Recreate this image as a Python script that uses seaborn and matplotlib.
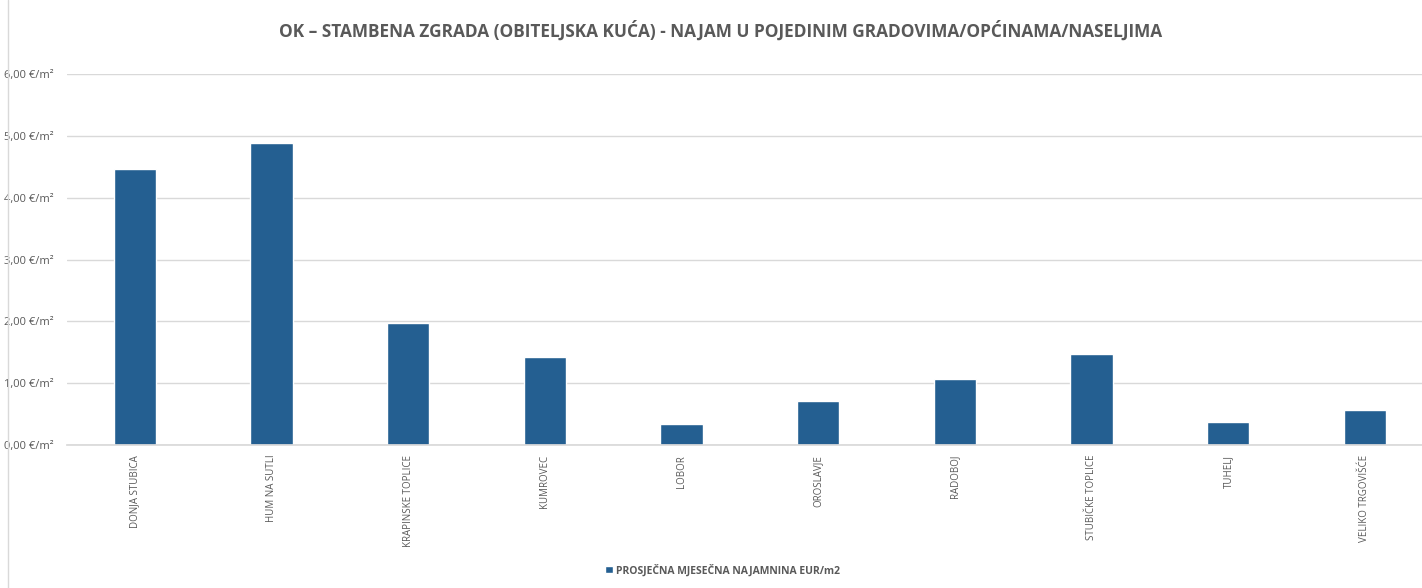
import matplotlib
matplotlib.use("Agg")
import matplotlib.pyplot as plt
import seaborn as sns
import pandas as pd
from matplotlib.ticker import FuncFormatter

places = ["DONJA STUBICA", "HUM NA SUTLI", "KRAPINSKE TOPLICE", "KUMROVEC", "LOBOR",
          "OROSLAVJE", "RADOBOJ", "STUBIČKE TOPLICE", "TUHELJ", "VELIKO TRGOVIŠĆE"]
rent = [4.47, 4.89, 1.97, 1.42, 0.34, 0.71, 1.07, 1.47, 0.37, 0.57]
series_name = "PROSJEČNA MJESEČNA NAJAMNINA EUR/m2"
title = "OK – STAMBENA ZGRADA (OBITELJSKA KUĆA) - NAJAM U POJEDINIM GRADOVIMA/OPĆINAMA/NASELJIMA"

bar_color = "#245F91"
text_grey = "#595959"


def main():
    sns.set_theme(style="white")
    plt.rcParams["font.family"] = ["Open Sans", "DejaVu Sans"]

    df = pd.DataFrame({"place": places, "rent": rent, "series": series_name})

    fig = plt.figure(figsize=(14.22, 5.88), dpi=100)
    ax = fig.add_axes([0.0468, 0.243, 0.961, 0.631])

    sns.barplot(data=df, x="place", y="rent", hue="series", palette=[bar_color],
                width=0.31, saturation=1, ax=ax, legend=True)

    ax.set_xlim(-0.5, len(places) - 0.5)
    ax.set_ylim(0, 6)
    ax.set_yticks(range(0, 7))
    ax.yaxis.set_major_formatter(FuncFormatter(lambda v, p: f"{v:.2f}".replace(".", ",") + " €/m²"))
    ax.grid(axis="y", color="#d9d9d9", linewidth=1)
    ax.set_axisbelow(True)
    for s in ["top", "right", "left"]:
        ax.spines[s].set_visible(False)
    ax.spines["bottom"].set_color("#d9d9d9")
    ax.tick_params(axis="y", length=0, labelsize=8, labelcolor=text_grey, pad=9)
    ax.tick_params(axis="x", length=0, labelsize=7, labelcolor=text_grey, pad=7)
    plt.setp(ax.get_xticklabels(), rotation=90, va="top", ha="center")
    ax.set_xlabel("")
    ax.set_ylabel("")

    ax.legend(loc="center", bbox_to_anchor=(0.48, -0.337), frameon=False,
              labelcolor=text_grey, handlelength=0.7, handleheight=0.7,
              handletextpad=0.3, prop={"weight": "bold", "size": 7.5})

    fig.suptitle(title, x=0.507, y=0.965, fontsize=12.4, fontweight="bold", color=text_grey)

    fig.add_artist(plt.Line2D([0.0056, 0.0056], [0, 1], color="#d9d9d9", linewidth=1))

    fig.savefig("out.png", dpi=100, facecolor="white")


if __name__ == "__main__":
    main()
